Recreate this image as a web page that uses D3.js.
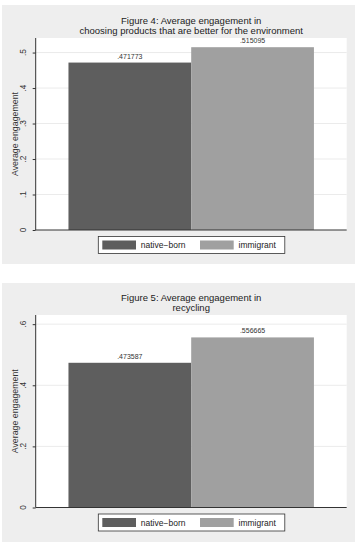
<!DOCTYPE html>
<html>
<head>
<meta charset="utf-8">
<script src="https://cdn.jsdelivr.net/npm/d3@7/dist/d3.min.js"></script>
<style>
  body { margin: 0; background: #fff; }
  svg { display: block; }
  text { font-family: "Liberation Sans", Arial, Helvetica, sans-serif; }
</style>
</head>
<body>
<script>
// Data
const groups = ["native-born", "immigrant"];
const legendLabels = ["native\u2212born", "immigrant"];
const fig4Title = ["Figure 4: Average engagement in", "choosing products that are better for the environment"];
const fig4Values = [0.471773, 0.515095];
const fig4Labels = [".471773", ".515095"];
const fig4Ticks = [0, 0.1, 0.2, 0.3, 0.4, 0.5];
const fig5Title = ["Figure 5: Average engagement in", "recycling"];
const fig5Values = [0.473587, 0.556665];
const fig5Labels = [".473587", ".556665"];
const fig5Ticks = [0, 0.2, 0.4, 0.6];
const yTitle = "Average engagement";

const width = 357, height = 548;
const colors = ["#5e5e5e", "#a0a0a0"];

const svg = d3.select("body").append("svg")
    .attr("width", width)
    .attr("height", height);

function drawPanel(top, title, values, labels, ticks, yMax, plotTop, plotBottom, titleY) {
    const g = svg.append("g").attr("transform", `translate(0,${top})`);

    // background
    g.append("rect")
        .attr("x", 2).attr("y", 0)
        .attr("width", 353).attr("height", 259)
        .attr("fill", "#eeeeee");

    const plot = { left: 35.7, right: 346.7, top: plotTop, bottom: plotBottom };

    // plot region
    g.append("rect")
        .attr("x", plot.left).attr("y", plot.top)
        .attr("width", plot.right - plot.left)
        .attr("height", plot.bottom - plot.top)
        .attr("fill", "#fff");

    const x = d3.scaleBand()
        .domain(groups)
        .range([plot.left, plot.right])
        .paddingInner(0)
        .paddingOuter(0.267);

    const y = d3.scaleLinear()
        .domain([0, yMax])
        .range([plot.bottom, plot.top]);

    // gridlines
    g.append("g").selectAll("line")
        .data(ticks.filter(t => t > 0))
        .enter().append("line")
        .attr("x1", plot.left).attr("x2", plot.right)
        .attr("y1", d => y(d)).attr("y2", d => y(d))
        .attr("stroke", "#ebebeb")
        .attr("stroke-width", 1);

    // bars
    g.append("g").selectAll("rect")
        .data(values)
        .enter().append("rect")
        .attr("x", (d, i) => x(groups[i]))
        .attr("width", x.bandwidth())
        .attr("y", d => y(d))
        .attr("height", d => y(0) - y(d))
        .attr("fill", (d, i) => colors[i]);

    // value labels
    g.append("g").selectAll("text")
        .data(values)
        .enter().append("text")
        .attr("x", (d, i) => x(groups[i]) + x.bandwidth() / 2)
        .attr("y", d => y(d) - 4)
        .attr("text-anchor", "middle")
        .attr("font-size", 7)
        .attr("fill", "#333")
        .text((d, i) => labels[i]);

    // y axis (ticks from d3, labels rotated like Stata)
    const fmt = d => d === 0 ? "0" : d3.format(".1f")(d).replace(/^0/, "");
    const axis = g.append("g")
        .attr("transform", `translate(${plot.left},0)`)
        .call(d3.axisLeft(y).tickValues(ticks).tickFormat(fmt).tickSize(3));
    axis.select(".domain").attr("stroke", "#333").attr("d", `M0,${plot.top}V${plot.bottom}`);
    axis.selectAll(".tick line").attr("stroke", "#333");
    axis.selectAll(".tick text").remove();

    g.append("g").selectAll("text")
        .data(ticks)
        .enter().append("text")
        .attr("transform", d => `translate(23.3,${y(d)}) rotate(-90)`)
        .attr("dy", "0.35em")
        .attr("text-anchor", "middle")
        .attr("font-size", 8.3)
        .attr("fill", "#333")
        .text(fmt);

    // x axis line
    g.append("line")
        .attr("x1", plot.left).attr("x2", plot.right)
        .attr("y1", plot.bottom).attr("y2", plot.bottom)
        .attr("stroke", "#333");

    // y axis title
    g.append("text")
        .attr("transform", `translate(15,${(plot.top + plot.bottom) / 2}) rotate(-90)`)
        .attr("dy", "0.35em")
        .attr("text-anchor", "middle")
        .attr("font-size", 8.8)
        .attr("fill", "#333")
        .text(yTitle);

    // title
    const cx = (plot.left + plot.right) / 2;
    g.append("text")
        .attr("x", cx).attr("y", titleY)
        .attr("text-anchor", "middle")
        .attr("font-size", 9.5)
        .attr("fill", "#222")
        .text(title[0]);
    g.append("text")
        .attr("x", cx).attr("y", titleY + 9.6)
        .attr("text-anchor", "middle")
        .attr("font-size", 9.5)
        .attr("fill", "#222")
        .text(title[1]);

    // legend
    const lg = g.append("g").attr("transform", `translate(98.3,${plot.bottom + 6.5})`);
    lg.append("rect")
        .attr("width", 186.5).attr("height", 17)
        .attr("fill", "#fff")
        .attr("stroke", "#333")
        .attr("stroke-width", 0.8);
    const items = [0, 1];
    const itemX = [4, 101.7];
    lg.selectAll("rect.sw")
        .data(items)
        .enter().append("rect")
        .attr("class", "sw")
        .attr("x", i => itemX[i]).attr("y", 4)
        .attr("width", 33.7).attr("height", 9)
        .attr("fill", i => colors[i]);
    lg.selectAll("text")
        .data(items)
        .enter().append("text")
        .attr("x", i => itemX[i] + 38.5)
        .attr("y", 11.8)
        .attr("font-size", 8.5)
        .attr("fill", "#222")
        .text(i => legendLabels[i]);
}

drawPanel(5, fig4Title, fig4Values, fig4Labels, fig4Ticks, 0.541, 33, 225, 19);
drawPanel(283, fig5Title, fig5Values, fig5Labels, fig5Ticks, 0.63, 32, 224.5, 18);
</script>
</body>
</html>
